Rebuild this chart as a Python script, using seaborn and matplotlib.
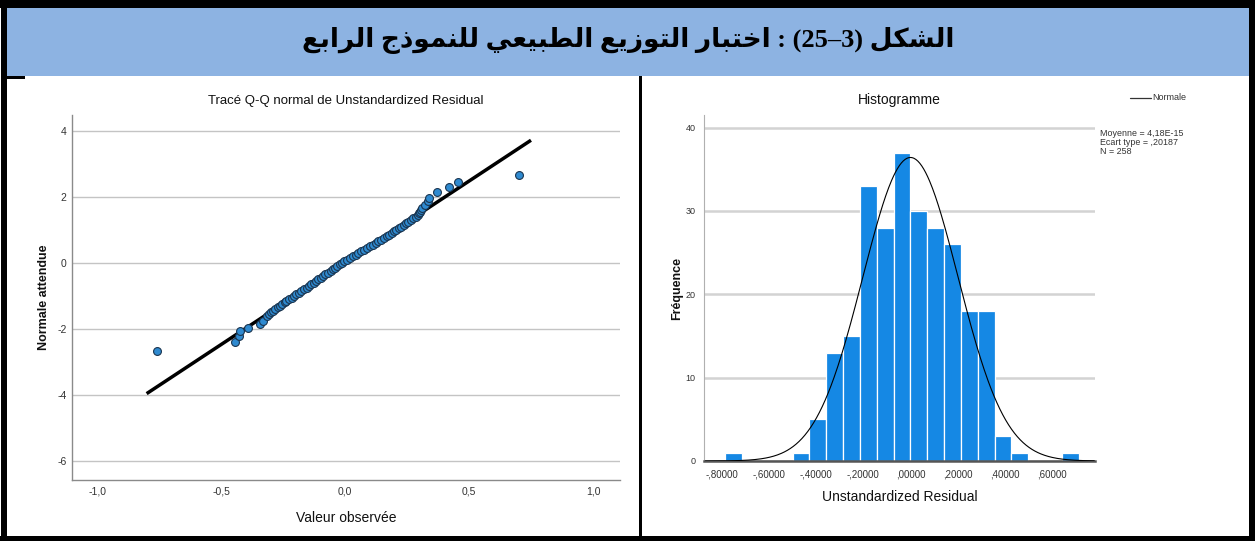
import numpy as np
import pandas as pd
import matplotlib
matplotlib.use("Agg")
import matplotlib.pyplot as plt
from matplotlib.patches import Rectangle
import seaborn as sns

# ---------------- data ----------------
title_ar = "الشكل (3–25) : اختبار التوزيع الطبيعي للنموذج الرابع"

# Q-Q plot: observed residuals and expected normal values
qq_observed = [
    -0.759, -0.442, -0.426, -0.423, -0.391, -0.343, -0.329, -0.316,
    -0.305, -0.298, -0.290, -0.282, -0.272, -0.262, -0.255, -0.244,
    -0.236, -0.225, -0.214, -0.206, -0.196, -0.184, -0.176, -0.166,
    -0.155, -0.146, -0.137, -0.126, -0.116, -0.107, -0.097, -0.088,
    -0.079, -0.068, -0.058, -0.049, -0.040, -0.031, -0.022, -0.013,
    -0.003, 0.008, 0.019, 0.031, 0.043, 0.054, 0.066, 0.078,
    0.089, 0.100, 0.112, 0.123, 0.134, 0.145, 0.156, 0.168,
    0.178, 0.188, 0.198, 0.207, 0.216, 0.226, 0.236, 0.246,
    0.256, 0.266, 0.276, 0.286, 0.293, 0.298, 0.303, 0.306,
    0.309, 0.323, 0.336, 0.339, 0.372, 0.421, 0.454, 0.700,
]
qq_expected = [
    -2.66, -2.40, -2.21, -2.06, -1.96, -1.85, -1.75, -1.61,
    -1.55, -1.50, -1.45, -1.40, -1.35, -1.30, -1.25, -1.20,
    -1.15, -1.10, -1.05, -1.00, -0.95, -0.90, -0.85, -0.80,
    -0.75, -0.70, -0.65, -0.60, -0.55, -0.50, -0.45, -0.40,
    -0.35, -0.30, -0.25, -0.20, -0.15, -0.10, -0.05, 0.00,
    0.05, 0.10, 0.15, 0.20, 0.25, 0.30, 0.35, 0.40,
    0.45, 0.50, 0.55, 0.60, 0.65, 0.70, 0.75, 0.80,
    0.85, 0.90, 0.95, 1.00, 1.05, 1.10, 1.15, 1.20,
    1.25, 1.30, 1.35, 1.40, 1.45, 1.50, 1.55, 1.60,
    1.66, 1.76, 1.86, 1.98, 2.14, 2.29, 2.45, 2.67,
]
qq_line_x = [-0.80, 0.75]

# Histogram of residuals
resid_mean = 4.18e-15
resid_sd = 0.20187
resid_n = 258
bin_width = 0.0714
bin_first = -11          # index of the first bin (in units of bin_width)
bin_counts = [1, 0, 0, 0, 1, 5, 13, 15, 33, 28, 37, 30, 28, 26, 18, 18, 3, 1, 0, 0, 1]

qq_xticks = [-1.0, -0.5, 0.0, 0.5, 1.0]
qq_xticklabels = ["-1,0", "-0,5", "0,0", "0,5", "1,0"]
qq_yticks = [-6, -4, -2, 0, 2, 4]
hist_xticks = [-0.8, -0.6, -0.4, -0.2, 0.0, 0.2, 0.4, 0.6]
hist_xticklabels = ["-,80000", "-,60000", "-,40000", "-,20000", ",00000", ",20000", ",40000", ",60000"]
hist_yticks = [0, 10, 20, 30, 40]

# ---------------- Arabic shaping (presentation forms + visual order) ----------------
FORMS = {  # isolated, final, initial, medial
    "ا": ("\uFE8D", "\uFE8E", None, None),
    "ب": ("\uFE8F", "\uFE90", "\uFE91", "\uFE92"),
    "ت": ("\uFE95", "\uFE96", "\uFE97", "\uFE98"),
    "ج": ("\uFE9D", "\uFE9E", "\uFE9F", "\uFEA0"),
    "خ": ("\uFEA5", "\uFEA6", "\uFEA7", "\uFEA8"),
    "ذ": ("\uFEAB", "\uFEAC", None, None),
    "ر": ("\uFEAD", "\uFEAE", None, None),
    "ز": ("\uFEAF", "\uFEB0", None, None),
    "ش": ("\uFEB5", "\uFEB6", "\uFEB7", "\uFEB8"),
    "ط": ("\uFEC1", "\uFEC2", "\uFEC3", "\uFEC4"),
    "ع": ("\uFEC9", "\uFECA", "\uFECB", "\uFECC"),
    "ك": ("\uFED9", "\uFEDA", "\uFEDB", "\uFEDC"),
    "ل": ("\uFEDD", "\uFEDE", "\uFEDF", "\uFEE0"),
    "م": ("\uFEE1", "\uFEE2", "\uFEE3", "\uFEE4"),
    "ن": ("\uFEE5", "\uFEE6", "\uFEE7", "\uFEE8"),
    "و": ("\uFEED", "\uFEEE", None, None),
    "ي": ("\uFEF1", "\uFEF2", "\uFEF3", "\uFEF4"),
}


def shape_arabic(text):
    out = []
    for i, ch in enumerate(text):
        if ch not in FORMS:
            out.append(ch)
            continue
        prev = text[i - 1] if i > 0 else ""
        nxt = text[i + 1] if i + 1 < len(text) else ""
        joins_prev = prev in FORMS and FORMS[prev][2] is not None
        joins_next = FORMS[ch][2] is not None and nxt in FORMS
        iso, fin, ini, med = FORMS[ch]
        if joins_prev and joins_next:
            out.append(med)
        elif joins_prev:
            out.append(fin)
        elif joins_next:
            out.append(ini)
        else:
            out.append(iso)
    return "".join(out)


def visual_rtl(text):
    rev = shape_arabic(text)[::-1]
    # keep digit runs left-to-right, mirror brackets
    res, run = [], ""
    for ch in rev:
        if ch.isdigit():
            run += ch
        else:
            if run:
                res.append(run[::-1])
                run = ""
            res.append({"(": ")", ")": "("}.get(ch, ch))
    if run:
        res.append(run[::-1])
    return "".join(res)


# ---------------- figure ----------------
sns.set_theme(style="white")
narrow = ["Liberation Sans Narrow", "Liberation Sans", "DejaVu Sans"]
plt.rcParams["font.family"] = narrow
plt.rcParams["text.color"] = "#222222"

W, H = 1255, 541
fig = plt.figure(figsize=(W / 100, H / 100), dpi=100)
fig.patch.set_facecolor("white")


def px_rect(x0, y0, x1, y1, color):
    fig.add_artist(Rectangle((x0 / W, 1 - y1 / H), (x1 - x0) / W, (y1 - y0) / H,
                             transform=fig.transFigure, facecolor=color,
                             edgecolor="none", zorder=0))


# header band and frame
px_rect(7, 8, 1249, 76, "#8DB3E2")
px_rect(0, 0, W, 8, "black")
px_rect(1, 0, 7, H, "black")
px_rect(1249, 0, W, H, "black")
px_rect(0, 536, W, H, "black")
px_rect(639, 76, 642, 536, "black")
px_rect(7, 76, 25, 79, "black")

fig.text(628 / W, 1 - 41 / H, visual_rtl(title_ar), ha="center", va="center",
         fontsize=19, fontweight="bold", color="black",
         family=["Liberation Serif", "DejaVu Sans"])

grid_c = "#C4C4C4"
axis_c = "#8A8A8A"
tick_c = "#333333"

# ---------------- Q-Q plot ----------------
ax1_box = (72, 115, 620, 480)   # left, top, right, bottom in pixels
ax1 = fig.add_axes([ax1_box[0] / W, 1 - ax1_box[3] / H,
                    (ax1_box[2] - ax1_box[0]) / W, (ax1_box[3] - ax1_box[1]) / H])
qq = pd.DataFrame({"observed": qq_observed, "expected": qq_expected})
line_df = pd.DataFrame({"x": qq_line_x, "y": np.array(qq_line_x) / resid_sd})
sns.lineplot(data=line_df, x="x", y="y", ax=ax1, color="black", linewidth=2.5,
             zorder=2, solid_capstyle="butt")
sns.scatterplot(data=qq, x="observed", y="expected", ax=ax1, s=32,
                color="#2F8AD0", edgecolor="#1A3550", linewidth=0.8, zorder=3)
ax1.set_xlim(-1.101, 1.109)
ax1.set_ylim(-6.58, 4.48)
ax1.set_xticks(qq_xticks)
ax1.set_xticklabels(qq_xticklabels)
ax1.set_yticks(qq_yticks)
ax1.set_yticklabels([str(v) for v in qq_yticks])
ax1.yaxis.grid(True, color=grid_c, linewidth=1.0)
ax1.set_axisbelow(True)
for s in ["top", "right"]:
    ax1.spines[s].set_visible(False)
for s in ["left", "bottom"]:
    ax1.spines[s].set_color(axis_c)
    ax1.spines[s].set_linewidth(1.0)
ax1.tick_params(axis="both", length=0, labelsize=7.5, colors=tick_c)
ax1.tick_params(axis="x", pad=5)
ax1.tick_params(axis="y", pad=4)
ax1.set_xlabel("Valeur observée", fontsize=10, color="#111111", va="center")
ax1.set_ylabel("Normale attendue", fontsize=9, fontweight="bold", color="#111111",
               va="center")
w1 = ax1_box[2] - ax1_box[0]
h1 = ax1_box[3] - ax1_box[1]
ax1.xaxis.set_label_coords(0.5, -(518 - ax1_box[3]) / h1)
ax1.yaxis.set_label_coords(-(ax1_box[0] - 44) / w1, 0.5)
ax1.set_title("Tracé Q-Q normal de Unstandardized Residual", fontsize=9.5, pad=8,
              color="#111111")

# ---------------- Histogram ----------------
ax2_box = (704, 115, 1095, 461)
ax2 = fig.add_axes([ax2_box[0] / W, 1 - ax2_box[3] / H,
                    (ax2_box[2] - ax2_box[0]) / W, (ax2_box[3] - ax2_box[1]) / H])
edges = (np.arange(len(bin_counts) + 1) + bin_first) * bin_width
centers = (edges[:-1] + edges[1:]) / 2
hist_df = pd.DataFrame({"resid": centers, "count": bin_counts})
sns.histplot(data=hist_df, x="resid", weights="count", binwidth=bin_width,
             binrange=(float(edges[0]), float(edges[-1])), ax=ax2,
             color="#1588E4", alpha=1.0, edgecolor="white", linewidth=0.9, zorder=2)
xs = np.linspace(-0.87, 0.78, 400)
curve = resid_n * bin_width * np.exp(-0.5 * ((xs - resid_mean) / resid_sd) ** 2) / (
    resid_sd * np.sqrt(2 * np.pi))
sns.lineplot(x=xs, y=curve, ax=ax2, color="black", linewidth=0.8, zorder=3)
ax2.set_xlim(-0.876, 0.783)
ax2.set_ylim(0, 41.5)
ax2.set_xticks(hist_xticks)
ax2.set_xticklabels(hist_xticklabels)
ax2.set_yticks(hist_yticks)
ax2.set_yticklabels([str(v) for v in hist_yticks])
ax2.yaxis.grid(True, color="#D3D3D3", linewidth=1.8)
ax2.set_axisbelow(True)
for s in ["top", "right"]:
    ax2.spines[s].set_visible(False)
ax2.spines["left"].set_color("#B0B0B0")
ax2.spines["left"].set_linewidth(0.8)
ax2.spines["bottom"].set_color("#555555")
ax2.spines["bottom"].set_linewidth(1.8)
ax2.tick_params(axis="x", length=0, labelsize=7, colors=tick_c, pad=6)
ax2.tick_params(axis="y", length=0, labelsize=6.5, colors=tick_c, pad=6)
ax2.set_xlabel("Unstandardized Residual", fontsize=10, color="#111111", va="center")
ax2.set_ylabel("Fréquence", fontsize=9, fontweight="bold", color="#111111", va="center")
w2 = ax2_box[2] - ax2_box[0]
h2 = ax2_box[3] - ax2_box[1]
ax2.xaxis.set_label_coords(0.5, -(497 - ax2_box[3]) / h2)
ax2.yaxis.set_label_coords(-(ax2_box[0] - 677) / w2, 0.5)
ax2.set_title("Histogramme", fontsize=10, pad=8, color="#111111")

# legend and summary statistics
fig.add_artist(plt.Line2D([1130 / W, 1151 / W], [1 - 98 / H, 1 - 98 / H],
                          transform=fig.transFigure, color="#333333", linewidth=0.9))
fig.text(1152 / W, 1 - 98 / H, "Normale", fontsize=6.5, va="center", ha="left",
         color="#333333")
stats_txt = "Moyenne = 4,18E-15\nEcart type = ,20187\nN = 258"
fig.text(1100 / W, 1 - 129 / H, stats_txt, fontsize=6.4, va="top", ha="left",
         color="#333333", linespacing=1.0)

fig.savefig("out.png", dpi=100)
